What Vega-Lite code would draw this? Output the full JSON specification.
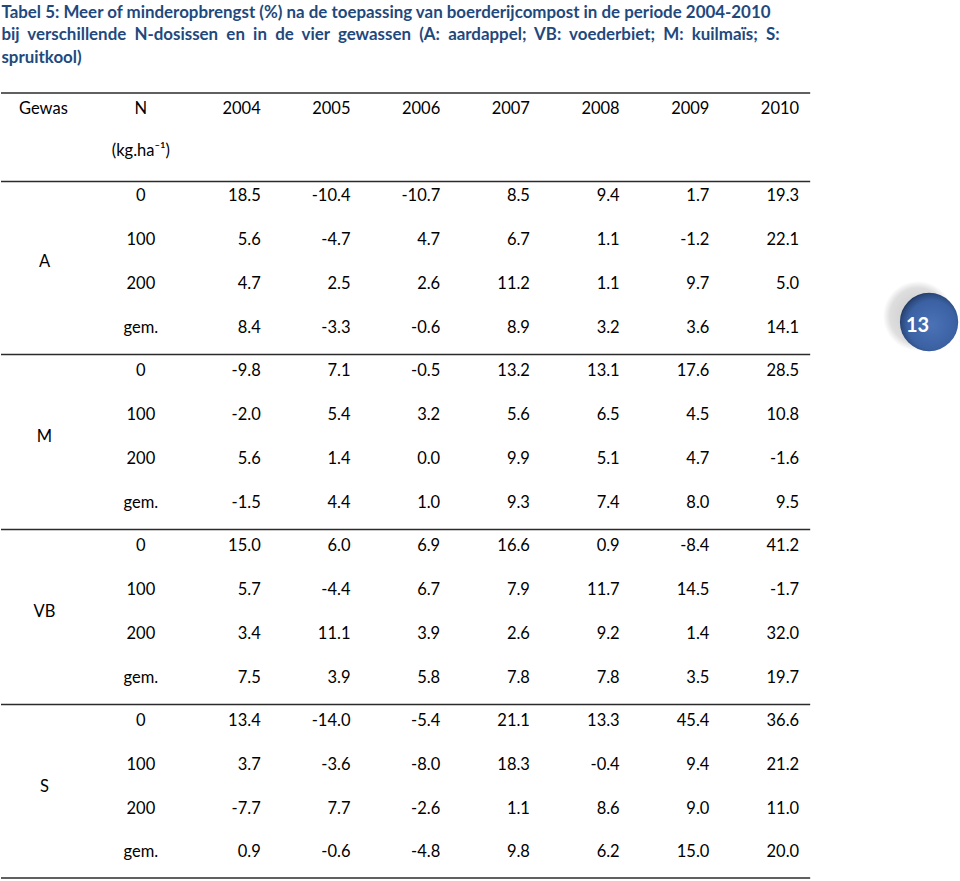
{
  "$schema": "https://vega.github.io/schema/vega-lite/v6.json",
  "width": 960,
  "height": 881,
  "autosize": {"type": "fit", "contains": "padding"},
  "padding": 0,
  "background": "white",
  "config": {
    "view": {"stroke": null},
    "locale": {"number": {"decimal": ".", "thousands": ",", "grouping": [3], "currency": ["", ""], "minus": "-"}},
    "text": {"font": "Lato", "fontSize": 16.5, "color": "#000000"}
  },
  "datasets": {
    "cellen": [
      {"g":"A","n":"0","r":0,"jaar":2004,"v":18.5},{"g":"A","n":"0","r":0,"jaar":2005,"v":-10.4},{"g":"A","n":"0","r":0,"jaar":2006,"v":-10.7},{"g":"A","n":"0","r":0,"jaar":2007,"v":8.5},{"g":"A","n":"0","r":0,"jaar":2008,"v":9.4},{"g":"A","n":"0","r":0,"jaar":2009,"v":1.7},{"g":"A","n":"0","r":0,"jaar":2010,"v":19.3},
      {"g":"A","n":"100","r":1,"jaar":2004,"v":5.6},{"g":"A","n":"100","r":1,"jaar":2005,"v":-4.7},{"g":"A","n":"100","r":1,"jaar":2006,"v":4.7},{"g":"A","n":"100","r":1,"jaar":2007,"v":6.7},{"g":"A","n":"100","r":1,"jaar":2008,"v":1.1},{"g":"A","n":"100","r":1,"jaar":2009,"v":-1.2},{"g":"A","n":"100","r":1,"jaar":2010,"v":22.1},
      {"g":"A","n":"200","r":2,"jaar":2004,"v":4.7},{"g":"A","n":"200","r":2,"jaar":2005,"v":2.5},{"g":"A","n":"200","r":2,"jaar":2006,"v":2.6},{"g":"A","n":"200","r":2,"jaar":2007,"v":11.2},{"g":"A","n":"200","r":2,"jaar":2008,"v":1.1},{"g":"A","n":"200","r":2,"jaar":2009,"v":9.7},{"g":"A","n":"200","r":2,"jaar":2010,"v":5.0},
      {"g":"A","n":"gem.","r":3,"jaar":2004,"v":8.4},{"g":"A","n":"gem.","r":3,"jaar":2005,"v":-3.3},{"g":"A","n":"gem.","r":3,"jaar":2006,"v":-0.6},{"g":"A","n":"gem.","r":3,"jaar":2007,"v":8.9},{"g":"A","n":"gem.","r":3,"jaar":2008,"v":3.2},{"g":"A","n":"gem.","r":3,"jaar":2009,"v":3.6},{"g":"A","n":"gem.","r":3,"jaar":2010,"v":14.1},
      {"g":"M","n":"0","r":4,"jaar":2004,"v":-9.8},{"g":"M","n":"0","r":4,"jaar":2005,"v":7.1},{"g":"M","n":"0","r":4,"jaar":2006,"v":-0.5},{"g":"M","n":"0","r":4,"jaar":2007,"v":13.2},{"g":"M","n":"0","r":4,"jaar":2008,"v":13.1},{"g":"M","n":"0","r":4,"jaar":2009,"v":17.6},{"g":"M","n":"0","r":4,"jaar":2010,"v":28.5},
      {"g":"M","n":"100","r":5,"jaar":2004,"v":-2.0},{"g":"M","n":"100","r":5,"jaar":2005,"v":5.4},{"g":"M","n":"100","r":5,"jaar":2006,"v":3.2},{"g":"M","n":"100","r":5,"jaar":2007,"v":5.6},{"g":"M","n":"100","r":5,"jaar":2008,"v":6.5},{"g":"M","n":"100","r":5,"jaar":2009,"v":4.5},{"g":"M","n":"100","r":5,"jaar":2010,"v":10.8},
      {"g":"M","n":"200","r":6,"jaar":2004,"v":5.6},{"g":"M","n":"200","r":6,"jaar":2005,"v":1.4},{"g":"M","n":"200","r":6,"jaar":2006,"v":0.0},{"g":"M","n":"200","r":6,"jaar":2007,"v":9.9},{"g":"M","n":"200","r":6,"jaar":2008,"v":5.1},{"g":"M","n":"200","r":6,"jaar":2009,"v":4.7},{"g":"M","n":"200","r":6,"jaar":2010,"v":-1.6},
      {"g":"M","n":"gem.","r":7,"jaar":2004,"v":-1.5},{"g":"M","n":"gem.","r":7,"jaar":2005,"v":4.4},{"g":"M","n":"gem.","r":7,"jaar":2006,"v":1.0},{"g":"M","n":"gem.","r":7,"jaar":2007,"v":9.3},{"g":"M","n":"gem.","r":7,"jaar":2008,"v":7.4},{"g":"M","n":"gem.","r":7,"jaar":2009,"v":8.0},{"g":"M","n":"gem.","r":7,"jaar":2010,"v":9.5},
      {"g":"VB","n":"0","r":8,"jaar":2004,"v":15.0},{"g":"VB","n":"0","r":8,"jaar":2005,"v":6.0},{"g":"VB","n":"0","r":8,"jaar":2006,"v":6.9},{"g":"VB","n":"0","r":8,"jaar":2007,"v":16.6},{"g":"VB","n":"0","r":8,"jaar":2008,"v":0.9},{"g":"VB","n":"0","r":8,"jaar":2009,"v":-8.4},{"g":"VB","n":"0","r":8,"jaar":2010,"v":41.2},
      {"g":"VB","n":"100","r":9,"jaar":2004,"v":5.7},{"g":"VB","n":"100","r":9,"jaar":2005,"v":-4.4},{"g":"VB","n":"100","r":9,"jaar":2006,"v":6.7},{"g":"VB","n":"100","r":9,"jaar":2007,"v":7.9},{"g":"VB","n":"100","r":9,"jaar":2008,"v":11.7},{"g":"VB","n":"100","r":9,"jaar":2009,"v":14.5},{"g":"VB","n":"100","r":9,"jaar":2010,"v":-1.7},
      {"g":"VB","n":"200","r":10,"jaar":2004,"v":3.4},{"g":"VB","n":"200","r":10,"jaar":2005,"v":11.1},{"g":"VB","n":"200","r":10,"jaar":2006,"v":3.9},{"g":"VB","n":"200","r":10,"jaar":2007,"v":2.6},{"g":"VB","n":"200","r":10,"jaar":2008,"v":9.2},{"g":"VB","n":"200","r":10,"jaar":2009,"v":1.4},{"g":"VB","n":"200","r":10,"jaar":2010,"v":32.0},
      {"g":"VB","n":"gem.","r":11,"jaar":2004,"v":7.5},{"g":"VB","n":"gem.","r":11,"jaar":2005,"v":3.9},{"g":"VB","n":"gem.","r":11,"jaar":2006,"v":5.8},{"g":"VB","n":"gem.","r":11,"jaar":2007,"v":7.8},{"g":"VB","n":"gem.","r":11,"jaar":2008,"v":7.8},{"g":"VB","n":"gem.","r":11,"jaar":2009,"v":3.5},{"g":"VB","n":"gem.","r":11,"jaar":2010,"v":19.7},
      {"g":"S","n":"0","r":12,"jaar":2004,"v":13.4},{"g":"S","n":"0","r":12,"jaar":2005,"v":-14.0},{"g":"S","n":"0","r":12,"jaar":2006,"v":-5.4},{"g":"S","n":"0","r":12,"jaar":2007,"v":21.1},{"g":"S","n":"0","r":12,"jaar":2008,"v":13.3},{"g":"S","n":"0","r":12,"jaar":2009,"v":45.4},{"g":"S","n":"0","r":12,"jaar":2010,"v":36.6},
      {"g":"S","n":"100","r":13,"jaar":2004,"v":3.7},{"g":"S","n":"100","r":13,"jaar":2005,"v":-3.6},{"g":"S","n":"100","r":13,"jaar":2006,"v":-8.0},{"g":"S","n":"100","r":13,"jaar":2007,"v":18.3},{"g":"S","n":"100","r":13,"jaar":2008,"v":-0.4},{"g":"S","n":"100","r":13,"jaar":2009,"v":9.4},{"g":"S","n":"100","r":13,"jaar":2010,"v":21.2},
      {"g":"S","n":"200","r":14,"jaar":2004,"v":-7.7},{"g":"S","n":"200","r":14,"jaar":2005,"v":7.7},{"g":"S","n":"200","r":14,"jaar":2006,"v":-2.6},{"g":"S","n":"200","r":14,"jaar":2007,"v":1.1},{"g":"S","n":"200","r":14,"jaar":2008,"v":8.6},{"g":"S","n":"200","r":14,"jaar":2009,"v":9.0},{"g":"S","n":"200","r":14,"jaar":2010,"v":11.0},
      {"g":"S","n":"gem.","r":15,"jaar":2004,"v":0.9},{"g":"S","n":"gem.","r":15,"jaar":2005,"v":-0.6},{"g":"S","n":"gem.","r":15,"jaar":2006,"v":-4.8},{"g":"S","n":"gem.","r":15,"jaar":2007,"v":9.8},{"g":"S","n":"gem.","r":15,"jaar":2008,"v":6.2},{"g":"S","n":"gem.","r":15,"jaar":2009,"v":15.0},{"g":"S","n":"gem.","r":15,"jaar":2010,"v":20.0}
    ],
    "jaren": [{"jaar":2004},{"jaar":2005},{"jaar":2006},{"jaar":2007},{"jaar":2008},{"jaar":2009},{"jaar":2010}],
    "leeg": [{}]
  },
  "layer": [
    {
      "data": {"name": "leeg"},
      "mark": {"type": "text", "align": "left", "baseline": "alphabetic", "font": "Lato", "fontWeight": "bold", "fontSize": 16.9, "color": "#1F497D", "lineHeight": 22.5,
        "text": ["Tabel 5: Meer of minderopbrengst (%) na de toepassing van boerderijcompost in de periode 2004-2010", "bij \u00a0verschillende \u00a0N-dosissen \u00a0en \u00a0in \u00a0de \u00a0vier \u00a0gewassen \u00a0(A: \u00a0aardappel; \u00a0VB: \u00a0voederbiet; \u00a0M: \u00a0kuilmaïs; \u00a0S:", "spruitkool)"]},
      "encoding": {
        "x": {"datum": 2001.11, "type": "quantitative", "scale": {"domain": [2001.1056, 2011.7925], "nice": false, "zero": false}, "axis": null},
        "y": {"datum": -4.082, "type": "quantitative", "scale": {"domain": [-4.4935, 15.653], "nice": false, "zero": false, "reverse": true}, "axis": null}
      }
    },
    {
      "data": {"name": "leeg"},
      "mark": {"type": "text", "align": "left", "baseline": "middle", "text": "Gewas"},
      "encoding": {"x": {"datum": 2001.306, "type": "quantitative"}, "y": {"datum": -2, "type": "quantitative"}}
    },
    {
      "data": {"name": "leeg"},
      "mark": {"type": "text", "align": "center", "baseline": "middle", "text": "N"},
      "encoding": {"x": {"datum": 2002.664, "type": "quantitative"}, "y": {"datum": -2, "type": "quantitative"}}
    },
    {
      "data": {"name": "leeg"},
      "mark": {"type": "text", "align": "center", "baseline": "middle", "text": "(kg.ha⁻¹)"},
      "encoding": {"x": {"datum": 2002.664, "type": "quantitative"}, "y": {"datum": -1.05, "type": "quantitative"}}
    },
    {
      "data": {"name": "jaren"},
      "mark": {"type": "text", "align": "right", "baseline": "middle"},
      "encoding": {
        "x": {"field": "jaar", "type": "quantitative"},
        "y": {"datum": -2, "type": "quantitative"},
        "text": {"field": "jaar", "type": "nominal"}
      }
    },
    {
      "data": {"name": "cellen"},
      "mark": {"type": "text", "align": "right", "baseline": "middle"},
      "encoding": {
        "x": {"field": "jaar", "type": "quantitative"},
        "y": {"field": "r", "type": "quantitative"},
        "text": {"field": "v", "type": "quantitative", "format": ".1f"}
      }
    },
    {
      "data": {"name": "cellen"},
      "transform": [{"filter": "datum.jaar == 2004"}],
      "mark": {"type": "text", "align": "center", "baseline": "middle"},
      "encoding": {
        "x": {"datum": 2002.664, "type": "quantitative"},
        "y": {"field": "r", "type": "quantitative"},
        "text": {"field": "n", "type": "nominal"}
      }
    },
    {
      "data": {"name": "cellen"},
      "transform": [{"filter": "datum.jaar == 2004 && datum.n == '100'"}],
      "mark": {"type": "text", "align": "center", "baseline": "middle", "dy": 21.9},
      "encoding": {
        "x": {"datum": 2001.59, "type": "quantitative"},
        "y": {"field": "r", "type": "quantitative"},
        "text": {"field": "g", "type": "nominal"}
      }
    },
    {
      "data": {"name": "leeg"},
      "mark": {"type": "rule", "color": "#2b2b2b", "strokeWidth": 1.5},
      "encoding": {"x": {"datum": 2001.1056, "type": "quantitative"}, "x2": {"datum": 2010.123}, "y": {"datum": -2.3668, "type": "quantitative"}}
    },
    {
      "data": {"name": "leeg"},
      "mark": {"type": "rule", "color": "#2b2b2b", "strokeWidth": 1.5},
      "encoding": {"x": {"datum": 2001.1056, "type": "quantitative"}, "x2": {"datum": 2010.123}, "y": {"datum": -0.343, "type": "quantitative"}}
    },
    {
      "data": {"name": "leeg"},
      "mark": {"type": "rule", "color": "#2b2b2b", "strokeWidth": 1.5},
      "encoding": {"x": {"datum": 2001.1056, "type": "quantitative"}, "x2": {"datum": 2010.123}, "y": {"datum": 3.613, "type": "quantitative"}}
    },
    {
      "data": {"name": "leeg"},
      "mark": {"type": "rule", "color": "#2b2b2b", "strokeWidth": 1.5},
      "encoding": {"x": {"datum": 2001.1056, "type": "quantitative"}, "x2": {"datum": 2010.123}, "y": {"datum": 7.615, "type": "quantitative"}}
    },
    {
      "data": {"name": "leeg"},
      "mark": {"type": "rule", "color": "#2b2b2b", "strokeWidth": 1.5},
      "encoding": {"x": {"datum": 2001.1056, "type": "quantitative"}, "x2": {"datum": 2010.123}, "y": {"datum": 11.617, "type": "quantitative"}}
    },
    {
      "data": {"name": "leeg"},
      "mark": {"type": "rule", "color": "#2b2b2b", "strokeWidth": 1.5},
      "encoding": {"x": {"datum": 2001.1056, "type": "quantitative"}, "x2": {"datum": 2010.123}, "y": {"datum": 15.584, "type": "quantitative"}}
    },
    {
      "data": {"name": "leeg"},
      "mark": {"type": "point", "shape": "circle", "filled": true, "size": 4900, "strokeWidth": 0, "opacity": 1,
        "fill": {"gradient": "radial", "x1": 0.5, "y1": 0.5, "r1": 0, "x2": 0.5, "y2": 0.5, "r2": 0.5, "stops": [{"offset": 0, "color": "#c4c4c4"}, {"offset": 0.8, "color": "#dedede"}, {"offset": 1, "color": "#ffffff"}]}},
      "encoding": {"x": {"datum": 2011.325, "type": "quantitative"}, "y": {"datum": 2.733, "type": "quantitative"}}
    },
    {
      "data": {"name": "leeg"},
      "mark": {"type": "point", "shape": "circle", "filled": true, "size": 3400, "strokeWidth": 0, "opacity": 1,
        "fill": {"gradient": "radial", "x1": 0.55, "y1": 0.55, "r1": 0, "x2": 0.55, "y2": 0.55, "r2": 0.6, "stops": [{"offset": 0, "color": "#4a72b5"}, {"offset": 0.7, "color": "#3b61a3"}, {"offset": 0.9, "color": "#2a4678"}, {"offset": 1, "color": "#0f1a30"}]}},
      "encoding": {"x": {"datum": 2011.4476, "type": "quantitative"}, "y": {"datum": 2.87, "type": "quantitative"}}
    },
    {
      "data": {"name": "leeg"},
      "mark": {"type": "text", "align": "center", "baseline": "middle", "font": "Lato", "fontWeight": "bold", "fontSize": 20, "color": "#ffffff", "text": "13"},
      "encoding": {"x": {"datum": 2011.319, "type": "quantitative"}, "y": {"datum": 2.954, "type": "quantitative"}}
    }
  ]
}
